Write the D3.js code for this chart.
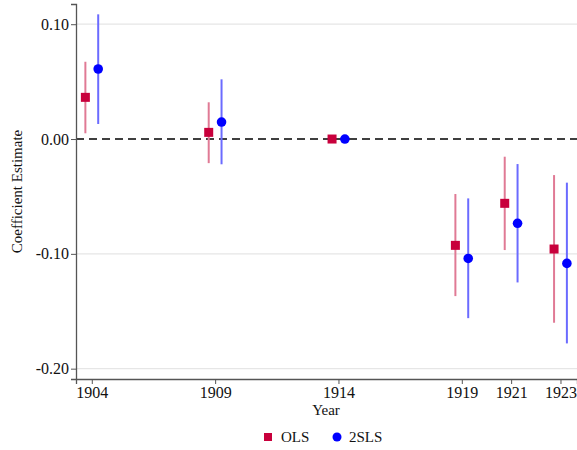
<!DOCTYPE html>
<html><head><meta charset="utf-8">
<script src="https://cdn.jsdelivr.net/npm/d3@7"></script>
<style>body{margin:0;background:#fff}svg{display:block}text{font-family:'Liberation Serif','Times New Roman',serif}</style>
</head><body>
<svg id="c" width="577" height="450"></svg>
<script>
const years = [1904, 1909, 1914, 1919, 1921, 1923];
const yTicks = [0.10, 0.00, -0.10, -0.20];
const olsEst = [0.0363, 0.0058, 0, -0.0926, -0.0560, -0.0958];
const olsLo  = [0.0050, -0.0210, 0, -0.1368, -0.0967, -0.1600];
const olsHi  = [0.0673, 0.0320, 0, -0.0479, -0.0154, -0.0314];
const tslsEst = [0.0610, 0.0148, 0, -0.1040, -0.0734, -0.1083];
const tslsLo  = [0.0131, -0.0220, 0, -0.1560, -0.1249, -0.1780];
const tslsHi  = [0.1086, 0.0520, 0, -0.0517, -0.0218, -0.0380];

const svg = d3.select("#c");
const L = 76, R = 577, T = 4, B = 379;
const x = d3.scaleLinear().domain([1903.36, 1923.67]).range([L, R]);
const y = d3.scaleLinear().domain([-0.209, 0.1176]).range([B, T]);
const font = "Liberation Serif";
const fmtY = d => d3.format(".2f")(d).replace("\u2212", "-");

svg.append("g").selectAll("line").data(yTicks.filter(d => d !== 0)).join("line")
  .attr("x1", L).attr("x2", R).attr("y1", d => y(d)).attr("y2", d => y(d))
  .attr("stroke", "#e6e6e6").attr("stroke-width", 1.2);

svg.append("line").attr("x1", L).attr("x2", R).attr("y1", y(0)).attr("y2", y(0))
  .attr("stroke", "#000").attr("stroke-width", 1.5).attr("stroke-dasharray", "8,5");

const yAxis = svg.append("g").attr("transform", `translate(${L},0)`)
  .call(d3.axisLeft(y).tickValues(yTicks).tickFormat(fmtY).tickSizeOuter(0).tickSize(5).tickPadding(2));
const xAxis = svg.append("g").attr("transform", `translate(0,${B})`)
  .call(d3.axisBottom(x).tickValues(years).tickFormat(d3.format("d")).tickSizeOuter(0).tickSize(5).tickPadding(3));
[yAxis, xAxis].forEach(a => {
  a.attr("font-family", font).attr("font-size", 16);
  a.select(".domain").attr("stroke", "#555").attr("stroke-width", 1.3);
  a.selectAll(".tick line").attr("stroke", "#555");
  a.selectAll(".tick text").attr("fill", "#111");
});

svg.append("text").attr("x", 326).attr("y", 415).attr("text-anchor", "middle")
  .attr("font-family", font).attr("font-size", 15).attr("fill", "#111").text("Year");
svg.append("text").attr("transform", `translate(22,${(T + B) / 2}) rotate(-90)`).attr("text-anchor", "middle")
  .attr("font-family", font).attr("font-size", 15).attr("fill", "#111").text("Coefficient Estimate");

const off = 0.26;
const series = [
  {name: "OLS", est: olsEst, lo: olsLo, hi: olsHi, dx: -off, line: "#e07a95", mark: "#c8003c", shape: "sq"},
  {name: "2SLS", est: tslsEst, lo: tslsLo, hi: tslsHi, dx: off, line: "#6b6bff", mark: "#0000ff", shape: "ci"}
];
series.forEach(s => {
  const g = svg.append("g");
  const data = years.map((yr, i) => ({yr, e: s.est[i], lo: s.lo[i], hi: s.hi[i]}));
  g.selectAll("line").data(data.filter(d => d.lo !== d.hi)).join("line")
    .attr("x1", d => x(d.yr + s.dx)).attr("x2", d => x(d.yr + s.dx))
    .attr("y1", d => y(d.lo)).attr("y2", d => y(d.hi))
    .attr("stroke", s.line).attr("stroke-width", 2);
  if (s.shape === "sq") {
    g.selectAll("rect").data(data).join("rect")
      .attr("x", d => x(d.yr + s.dx) - 4.5).attr("y", d => y(d.e) - 4.5)
      .attr("width", 9).attr("height", 9).attr("fill", s.mark);
  } else {
    g.selectAll("circle").data(data).join("circle")
      .attr("cx", d => x(d.yr + s.dx)).attr("cy", d => y(d.e)).attr("r", 4.8).attr("fill", s.mark);
  }
});

const lg = svg.append("g");
lg.append("rect").attr("x", 264).attr("y", 433).attr("width", 8).attr("height", 8).attr("fill", "#c8003c");
lg.append("text").attr("x", 281).attr("y", 442).attr("font-family", font).attr("font-size", 15).attr("fill", "#111").text("OLS");
lg.append("circle").attr("cx", 337).attr("cy", 437).attr("r", 4.5).attr("fill", "#0000ff");
lg.append("text").attr("x", 349).attr("y", 442).attr("font-family", font).attr("font-size", 15).attr("fill", "#111").text("2SLS");
</script>
</body></html>
